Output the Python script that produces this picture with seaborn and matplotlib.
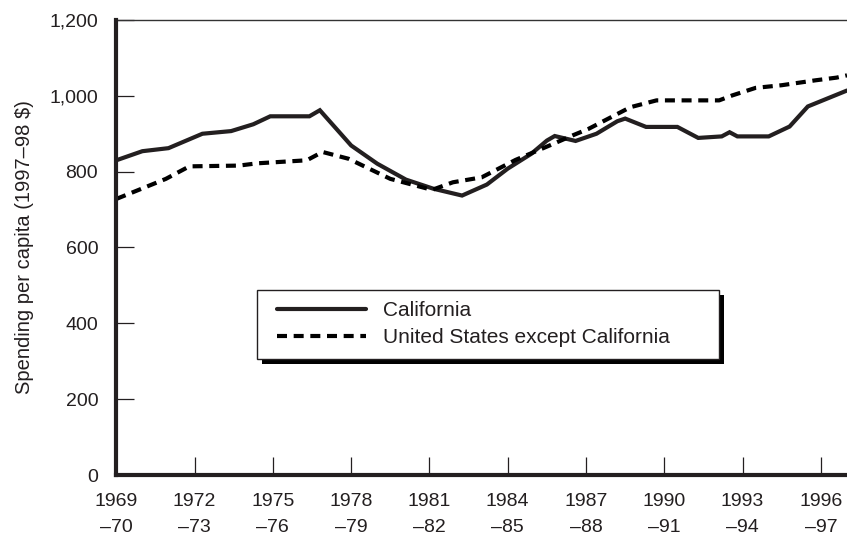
import matplotlib
matplotlib.use("Agg")
import matplotlib.pyplot as plt
from matplotlib.patches import Rectangle
from matplotlib.transforms import IdentityTransform
from matplotlib.ticker import FuncFormatter
from matplotlib.legend_handler import HandlerLine2D
import seaborn as sns
import pandas as pd

# ---- data ----
ca_years = [1969.0, 1970.0, 1971.0, 1972.3, 1973.4, 1974.25, 1974.9, 1976.4, 1976.8,
            1978.0, 1979.0, 1980.1, 1981.15, 1982.25, 1983.2, 1984.0, 1984.9, 1985.5,
            1985.8, 1986.6, 1987.4, 1988.2, 1988.5, 1989.3, 1990.5, 1991.3, 1992.2,
            1992.5, 1992.8, 1994.0, 1994.8, 1995.5, 1997.0]
ca_values = [830, 854, 862, 900, 907, 925, 946, 946, 962,
             869, 821, 779, 755, 737, 766, 808, 847, 882,
             894, 881, 900, 933, 940, 918, 918, 889, 893,
             904, 893, 893, 919, 972, 1014]

us_years = [1969.0, 1970.9, 1971.8, 1973.7, 1974.4, 1976.3, 1976.9, 1977.9, 1979.5,
            1981.1, 1981.9, 1983.0, 1984.3, 1985.6, 1986.5, 1987.1, 1988.7, 1989.7,
            1992.1, 1992.6, 1993.5, 1994.5, 1995.8, 1996.6, 1997.0]
us_values = [728, 781, 814, 816, 822, 830, 852, 834, 781,
             752, 772, 785, 831, 869, 896, 913, 970, 988,
             988, 1001, 1021, 1028, 1041, 1048, 1054]

series_labels = ["California", "United States except California"]
x_ticks = [1969, 1972, 1975, 1978, 1981, 1984, 1987, 1990, 1993, 1996]
x_ticklabels = ["1969\n–70", "1972\n–73", "1975\n–76", "1978\n–79", "1981\n–82",
                "1984\n–85", "1987\n–88", "1990\n–91", "1993\n–94", "1996\n–97"]
y_ticks = [0, 200, 400, 600, 800, 1000, 1200]
y_label = "Spending per capita (1997–98 $)"

ca_df = pd.DataFrame({"year": ca_years, "value": ca_values})
us_df = pd.DataFrame({"year": us_years, "value": us_values})

# ---- style ----
sns.set_theme(style="white")
plt.rcParams["font.family"] = ["Liberation Sans", "DejaVu Sans"]
plt.rcParams["text.color"] = "#231f20"
plt.rcParams["axes.labelcolor"] = "#231f20"

fig = plt.figure(figsize=(8.47, 5.36), dpi=100)
ax = fig.add_axes([0.1373, 0.1138, 0.8627, 0.8489])
ax.set_facecolor("white")

ink = "#231f20"
sns.lineplot(data=ca_df, x="year", y="value", ax=ax, color=ink, linewidth=3.0,
             label=series_labels[0], solid_joinstyle="miter")
sns.lineplot(data=us_df, x="year", y="value", ax=ax, color="black", linewidth=3.0,
             linestyle=(0, (2.4, 1.6)), label=series_labels[1])

ax.set_xlim(1969, 1997)
ax.set_ylim(0, 1200)
ax.set_xticks(x_ticks)
ax.set_xticklabels(x_ticklabels)
ax.set_yticks(y_ticks)
ax.yaxis.set_major_formatter(FuncFormatter(lambda v, p: f"{int(v):,}"))

ax.set_xlabel("")
ax.set_ylabel(y_label, fontsize=14.5, labelpad=11)

ax.tick_params(axis="both", direction="in", length=13, width=0.9, color=ink,
               labelsize=14, labelcolor=ink, bottom=True, left=True)
ax.tick_params(axis="y", pad=13)
ax.tick_params(axis="x", pad=12.8)
for t in ax.get_xticklabels():
    t.set_linespacing(1.7)

for side in ["left", "bottom"]:
    ax.spines[side].set_linewidth(3.0)
    ax.spines[side].set_color(ink)
    ax.spines[side].set_zorder(3)
ax.spines["top"].set_linewidth(1.0)
ax.spines["top"].set_color("#333333")
ax.spines["right"].set_visible(False)

leg = ax.legend(loc="upper left", bbox_to_anchor=(0.193, 0.262, 0.632, 0.145),
                mode="expand", borderaxespad=0, fancybox=False, frameon=True,
                edgecolor=ink, facecolor="white", framealpha=1, fontsize=15,
                handlelength=4.67, handletextpad=0.82, borderpad=0.55,
                labelspacing=0.38,
                handler_map={plt.Line2D: HandlerLine2D(xpad=0.4)})
leg.get_frame().set_linewidth(1.0)
leg.set_zorder(6)

# drop shadow behind the legend box
fig.canvas.draw()
bb = leg.get_frame().get_window_extent()
shadow = Rectangle((bb.x0 + 5, bb.y0 - 5), bb.width, bb.height,
                   transform=IdentityTransform(), facecolor="black",
                   edgecolor="none", zorder=5.5, clip_on=False)
ax.add_patch(shadow)

fig.savefig("out.png", dpi=100)
